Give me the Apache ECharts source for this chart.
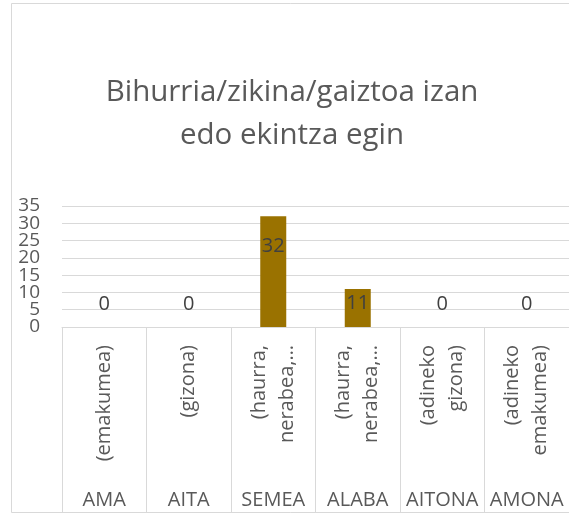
<!DOCTYPE html>
<html>
<head>
<meta charset="utf-8">
<script src="https://cdn.jsdelivr.net/npm/echarts@6/dist/echarts.min.js"></script>
<style>html,body{margin:0;padding:0;background:#fff}#c{width:569px;height:515px}</style>
</head>
<body>
<div id="c"></div>
<script>
const titleText = 'Bihurria/zikina/gaiztoa izan\nedo ekintza egin';
const subLabels = ['(emakumea)', '(gizona)', '(haurra,\nnerabea,…', '(haurra,\nnerabea,…', '(adineko\ngizona)', '(adineko\nemakumea)'];
const categories = ['AMA', 'AITA', 'SEMEA', 'ALABA', 'AITONA', 'AMONA'];
const values = [0, 0, 32, 11, 0, 0];
const yTicks = { min: 0, max: 35, interval: 5 };

const FONT = '"Open Sans", sans-serif';
const grey = '#595959';
const lineCol = '#d9d9d9';

function labelFor(v) {
  if (v === 0) return { position: 'top', distance: 13 };
  if (v > 20) return { position: 'insideTop', distance: 20 };
  return { position: 'insideTop', distance: 4 };
}

function yAxisDef(parity, showSplit) {
  return {
    type: 'value', position: 'left', min: yTicks.min, max: yTicks.max, interval: yTicks.interval,
    axisLine: { show: false }, axisTick: { show: false },
    splitLine: { show: showSplit, lineStyle: { color: lineCol, width: 1 } },
    axisLabel: { margin: 22, fontFamily: FONT, fontSize: 19, color: grey,
      showMinLabel: true, showMaxLabel: true,
      formatter: v => (Math.round(v / yTicks.interval) % 2 === parity ? String(v) : '') }
  };
}

const chart = echarts.init(document.getElementById('c'), null, { renderer: 'canvas' });
chart.setOption({
  animation: false,
  backgroundColor: '#fff',
  title: {
    text: titleText,
    left: 292, top: 71, padding: 0, textAlign: 'center',
    textStyle: { fontFamily: FONT, fontSize: 29.5, fontWeight: 'normal', color: grey, lineHeight: 43 }
  },
  graphic: [{
    type: 'rect', silent: true, z: -1,
    shape: { x: 11.5, y: 3.5, width: 600, height: 509 },
    style: { fill: 'none', stroke: lineCol, lineWidth: 1 }
  }],
  grid: { left: 62, top: 206, width: 512, height: 121, containLabel: false },
  xAxis: [{
    type: 'category', data: subLabels, position: 'bottom',
    axisLine: { show: true, lineStyle: { color: lineCol, width: 1 } },
    axisTick: { show: true, interval: 0, length: 186, lineStyle: { color: lineCol, width: 1 } },
    axisLabel: { interval: 0, rotate: 90, margin: 18, fontFamily: FONT, fontSize: 20, lineHeight: 28, color: grey }
  }, {
    type: 'category', data: categories, position: 'bottom',
    axisLine: { show: false }, axisTick: { show: false },
    axisLabel: { interval: 0, margin: 163, fontFamily: FONT, fontSize: 20, color: grey }
  }],
  yAxis: [yAxisDef(0, true), yAxisDef(1, false)],
  series: [{
    type: 'bar', xAxisIndex: 0, yAxisIndex: 0, barWidth: 26,
    itemStyle: { color: '#9a7200' },
    label: { show: true, fontFamily: FONT, fontSize: 20, color: '#404040' },
    data: values.map(v => ({ value: v, label: labelFor(v) }))
  }]
});
</script>
</body>
</html>
